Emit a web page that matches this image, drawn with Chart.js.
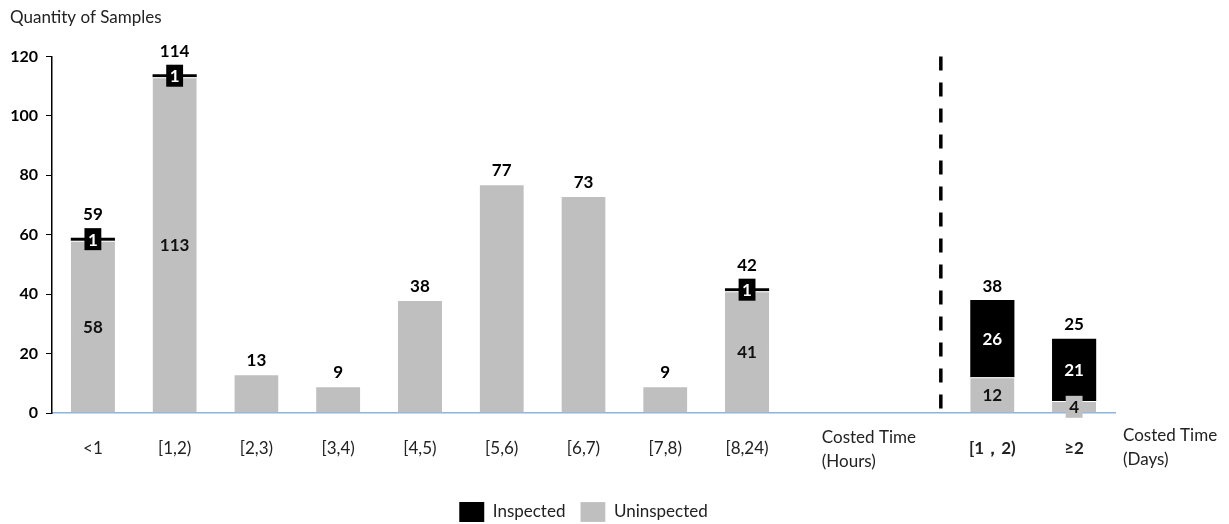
<!DOCTYPE html>
<html>
<head>
<meta charset="utf-8">
<script src="https://cdn.jsdelivr.net/npm/chart.js@4/dist/chart.umd.min.js"></script>
<style>
  html, body { margin: 0; padding: 0; background: #fff; }
  #wrap { width: 1229px; height: 524px; position: relative; }
</style>
</head>
<body>
<div id="wrap"><canvas id="c"></canvas></div>
<script>
// Sample counts per costed-time bin (hours bins, two spacer slots, then day bins)
const categories  = ['<1', '[1,2)', '[2,3)', '[3,4)', '[4,5)', '[5,6)', '[6,7)', '[7,8)', '[8,24)', '', '', '[1，2)', '≥2'];
const inspected   = [1, 1, 0, 0, 0, 0, 0, 0, 1, null, null, 26, 21];
const uninspected = [58, 113, 13, 9, 38, 77, 73, 9, 41, null, null, 12, 4];
const yTicks      = [0, 20, 40, 60, 80, 100, 120];
const hoursLabel  = ['Costed Time', '(Hours)'];
const daysLabel   = ['Costed Time', '(Days)'];
const dayStart    = 11; // first day bin index

const FONT = 'Lato, "Open Sans", sans-serif';
const GRAY = '#bfbfbf';
const BLACK = '#000000';

// Segment labels, boxed value chips, totals above each stack
const barLabels = {
  id: 'barLabels',
  afterDatasetsDraw(chart) {
    const ctx = chart.ctx;
    const metaU = chart.getDatasetMeta(0);
    const metaI = chart.getDatasetMeta(1);
    const boxH = 22;
    ctx.save();
    ctx.textAlign = 'center';
    ctx.textBaseline = 'middle';
    categories.forEach((c, i) => {
      const u = uninspected[i];
      if (u == null) return;
      const ins = inspected[i] || 0;
      const total = u + ins;
      const barU = metaU.data[i];
      const barI = metaI.data[i];
      let topY = barU.y;
      let offset = 14;
      if (ins > 0) {
        topY = barI.y;
        const segs = [
          { bar: barU, v: u, bg: GRAY, fg: '#111' },
          { bar: barI, v: ins, bg: BLACK, fg: '#fff' }
        ];
        ctx.font = 'bold 17px ' + FONT;
        segs.forEach(s => {
          const cy = (s.bar.y + s.bar.base) / 2;
          const txt = String(s.v);
          const w = ctx.measureText(txt).width + 7;
          ctx.fillStyle = s.bg;
          ctx.fillRect(s.bar.x - w / 2, cy - boxH / 2, w, boxH);
          ctx.fillStyle = s.fg;
          ctx.fillText(txt, s.bar.x, cy + 1);
        });
        const topH = Math.abs(barI.base - barI.y);
        if (topH < boxH) offset = boxH / 2 + 12;
      }
      ctx.font = 'bold 17px ' + FONT;
      ctx.fillStyle = '#000';
      ctx.fillText(String(total), barU.x, topY - offset);
    });
    ctx.restore();
  }
};

// Divider between hour and day bins, plus the unit captions beside the axis
const sections = {
  id: 'sections',
  afterDraw(chart) {
    const ctx = chart.ctx;
    const xs = chart.scales.x;
    const area = chart.chartArea;
    const step = xs.getPixelForValue(dayStart) - xs.getPixelForValue(dayStart - 1);
    const xDiv = xs.getPixelForValue(dayStart - 1) + step * 0.37;
    ctx.save();
    ctx.strokeStyle = '#000';
    ctx.lineWidth = 3.5;
    ctx.setLineDash([14, 12]);
    ctx.beginPath();
    ctx.moveTo(xDiv, area.top);
    ctx.lineTo(xDiv, area.bottom - 3);
    ctx.stroke();
    ctx.setLineDash([]);

    ctx.font = '17px ' + FONT;
    ctx.fillStyle = '#222';
    ctx.textAlign = 'left';
    ctx.textBaseline = 'middle';
    const hx = xs.getPixelForValue(dayStart - 2) - 7;
    hoursLabel.forEach((t, k) => ctx.fillText(t, hx, area.bottom + 25 + k * 24));
    const dx = area.right + 8;
    daysLabel.forEach((t, k) => ctx.fillText(t, dx, area.bottom + 23 + k * 24));
    ctx.restore();
  }
};

new Chart(document.getElementById('c'), {
  type: 'bar',
  data: {
    labels: categories,
    datasets: [
      {
        label: 'Uninspected',
        data: uninspected,
        backgroundColor: GRAY,
        borderColor: '#ffffff',
        borderWidth: { top: 1, left: 0, right: 0, bottom: 0 },
        borderSkipped: false,
        barPercentage: 1,
        categoryPercentage: 0.54
      },
      {
        label: 'Inspected',
        data: inspected,
        backgroundColor: BLACK,
        borderWidth: 0,
        barPercentage: 1,
        categoryPercentage: 0.54
      }
    ]
  },
  options: {
    responsive: true,
    maintainAspectRatio: false,
    animation: false,
    layout: { padding: { left: 10, right: 114, top: 0, bottom: -8 } },
    plugins: {
      tooltip: { enabled: false },
      title: {
        display: true,
        text: 'Quantity of Samples',
        align: 'start',
        color: '#222',
        font: { family: FONT, size: 17, weight: 'normal' },
        padding: { top: 7, bottom: 29 }
      },
      legend: {
        position: 'bottom',
        fullSize: false,
        reverse: true,
        labels: {
          boxWidth: 25,
          boxHeight: 20,
          padding: 15,
          color: '#222',
          font: { family: FONT, size: 17 }
        }
      }
    },
    scales: {
      x: {
        stacked: true,
        grid: { display: false, drawTicks: false },
        border: { display: true, color: '#8eb4de', width: 1.5 },
        ticks: {
          autoSkip: false,
          maxRotation: 0,
          padding: 25,
          color: '#222',
          font: (c) => ({ family: FONT, size: 17, weight: c.index >= dayStart ? 'bold' : 'normal' })
        },
        afterFit: (s) => { s.height = 74; }
      },
      y: {
        stacked: true,
        min: 0,
        max: 120,
        afterBuildTicks: (s) => { s.ticks = yTicks.map(v => ({ value: v })); },
        grid: { display: true, drawOnChartArea: false, drawTicks: true, tickLength: 6, color: '#000' },
        border: { display: true, color: '#000', width: 1.5 },
        ticks: {
          padding: 8,
          color: '#000',
          font: { family: FONT, size: 16, weight: 'bold' }
        },
        afterFit: (s) => { s.width = 42; }
      }
    }
  },
  plugins: [barLabels, sections]
});
</script>
</body>
</html>
